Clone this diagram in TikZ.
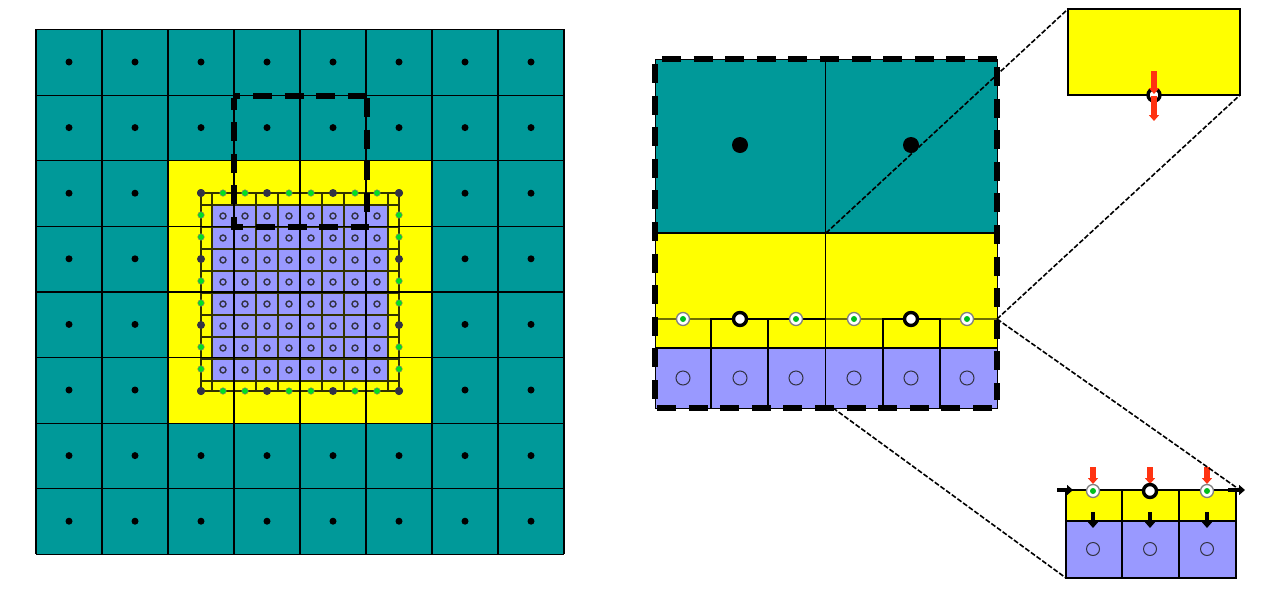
\documentclass[tikz,border=0pt]{standalone}
\usepackage{xcolor}
\usetikzlibrary{arrows.meta}
\definecolor{tealcell}{HTML}{009999}
\definecolor{yellowcell}{HTML}{FFFF00}
\definecolor{bluecell}{HTML}{9999FF}
\definecolor{gridline}{HTML}{333300}
\definecolor{greendot}{HTML}{00E020}
\definecolor{redarrow}{HTML}{FF3311}
\definecolor{darkdot}{HTML}{333344}

\begin{document}
\begin{tikzpicture}[
  x=1pt, y=-1pt,
  region/.style={fill=#1, draw=none},
  cellline/.style={black, line width=1.2pt},
  fineline/.style={gridline, line width=1.2pt},
  zoombox/.style={black, line width=5.5pt, dash pattern=on 19pt off 12.6pt},
  zoomline/.style={black, line width=1.6pt, dash pattern=on 5pt off 2pt},
  bigdot/.style={circle, fill=black, inner sep=0pt, minimum size=#1},
  ringdot/.style={circle, draw=darkdot, line width=#1, fill=none, inner sep=0pt},
  gdot/.style={circle, fill=greendot, draw=gridline!60, line width=0.5pt, inner sep=0pt, minimum size=6.5pt},
  ddot/.style={circle, fill=darkdot, inner sep=0pt, minimum size=8pt},
  gring/.style={circle, draw=gray, line width=1.3pt, fill=white, inner sep=0pt, minimum size=13pt},
  gcore/.style={circle, fill=greendot!85!black, inner sep=0pt, minimum size=6pt},
  wring/.style={circle, draw=black, line width=#1, fill=white, inner sep=0pt, minimum size=13pt},
  redarr/.style={-{Triangle[length=6pt,width=10pt]}, redarrow, line width=5.5pt},
  blkarr/.style={-{Triangle[length=6pt,width=10pt]}, black, line width=4pt}
]
  \useasboundingbox (0,0) rectangle (1262,590);

  % left mesh
  \fill[region=tealcell] (36,29) rectangle (564,554);
  \fill[region=yellowcell] (168,161) rectangle (431,423);
  \fill[region=bluecell] (212,205) rectangle (389,380);
  \foreach \i in {223,245,...,399}{
    \pgfmathtruncatemacro{\xa}{\i-11}
    \draw[fineline] (\xa,193) -- (\xa,391);
    \pgfmathtruncatemacro{\ya}{\i-18}
    \draw[fineline] (201,\ya) -- (399,\ya);
  }
  \draw[fineline] (201,193) rectangle (399,391);
  \foreach \i in {0,...,8}{
    \draw[cellline] (36+66*\i,29) -- (36+66*\i,554);
    \draw[cellline] (36,29.5+65.6*\i) -- (564,29.5+65.6*\i);
  }
  \foreach \i in {0,...,7}{
    \foreach \j in {0,...,7}{
      \pgfmathtruncatemacro{\inner}{(\i>1)&&(\i<6)&&(\j>1)&&(\j<6)?1:0}
      \ifnum\inner=0
        \node[bigdot=7pt] (c\i\j) at (69+66*\i,62+65.6*\j) {};
      \fi
      \node[ringdot=1.4pt, minimum size=6pt] (p\i\j) at (223+22*\i,216+22*\j) {};
    }
  }
  \foreach \i in {0,...,9}{
    \pgfmathtruncatemacro{\dk}{mod(\i,3)==0?1:0}
    \ifnum\dk=1
      \node[ddot] (t\i) at (201+22*\i,193) {};
      \node[ddot] (b\i) at (201+22*\i,391) {};
      \node[ddot] (l\i) at (201,193+22*\i) {};
      \node[ddot] (r\i) at (399,193+22*\i) {};
    \else
      \node[gdot] (t\i) at (201+22*\i,193) {};
      \node[gdot] (b\i) at (201+22*\i,391) {};
      \node[gdot] (l\i) at (201,193+22*\i) {};
      \node[gdot] (r\i) at (399,193+22*\i) {};
    \fi
  }
  \draw[zoombox, dash phase=12.6pt] (234,96) -- (367,96);
  \draw[zoombox, dash phase=7.4pt] (234,98) -- (234,230);
  \draw[zoombox] (367,98) -- (367,212);
  \draw[zoombox, dash phase=8.6pt] (233,227) -- (369,227);

  % zoomed region
  \fill[region=tealcell] (655,59) rectangle (997,233);
  \fill[region=yellowcell] (655,233) rectangle (997,348);
  \fill[region=bluecell] (655,348) rectangle (997,408);
  \draw[fineline, gridline!70!yellowcell] (655,319) -- (997,319);
  \draw[cellline] (825.5,59) -- (825.5,408);
  \draw[cellline] (655,233) -- (997,233);
  \draw[cellline] (655,348) -- (997,348);
  \draw[cellline] (711,408) -- (711,319) -- (825.5,319);
  \draw[cellline] (768,319) -- (768,408);
  \draw[cellline] (883,408) -- (883,319) -- (940,319) -- (940,408);
  \node[bigdot=16pt] (big1) at (740,145) {};
  \node[bigdot=16pt] (big2) at (911,145) {};
  \foreach \x/\n in {683/1,740/2,796/3,854/4,911/5,967/6}{
    \node[ringdot=1pt, minimum size=14pt] (pz\n) at (\x,378) {};
  }
  \foreach \x/\n in {683/1,796/3,854/4,967/6}{
    \node[gring] (gz\n) at (\x,319) {};
    \node[gcore] at (gz\n) {};
  }
  \foreach \x/\n in {740/2,911/5}{
    \node[wring=3.4pt] (wz\n) at (\x,319) {};
  }
  \draw[black, line width=0.8pt] (655,59) rectangle (997,408);
  \draw[zoombox] (662,59) -- (997,59);
  \draw[zoombox] (655,64) -- (655,400);
  \draw[zoombox] (997,67) -- (997,400);
  \draw[zoombox] (657,408) -- (994,408);

  % upper inset
  \fill[region=yellowcell] (1068,9) rectangle (1240,95);
  \draw[cellline] (1068,9) rectangle (1240,95);
  \node[wring=3.4pt, minimum size=12pt] (wtop) at (1154,95) {};
  \coordinate (rt1) at (1154,71);
  \coordinate (rt2) at (1154,94);
  \coordinate (rt3) at (1154,96);
  \coordinate (rt4) at (1154,121);
  \draw[redarr] (rt1) -- (rt2);
  \draw[redarr] (rt3) -- (rt4);

  % lower inset
  \fill[region=yellowcell] (1066,490) rectangle (1236,521);
  \fill[region=bluecell] (1066,521) rectangle (1236,578);
  \draw[cellline] (1066,490) rectangle (1236,578);
  \draw[cellline] (1066,521) -- (1236,521);
  \draw[cellline] (1122,490) -- (1122,578);
  \draw[cellline] (1179,490) -- (1179,578);
  \foreach \x/\n in {1093/1,1150/2,1207/3}{
    \node[ringdot=1pt, minimum size=13pt] (pb\n) at (\x,549) {};
    \coordinate (ra\n) at (\x,467);
    \coordinate (rb\n) at (\x,484);
    \coordinate (da\n) at (\x,512);
    \coordinate (db\n) at (\x,528);
    \draw[redarr] (ra\n) -- (rb\n);
    \draw[blkarr] (da\n) -- (db\n);
  }
  \foreach \x/\n in {1093/1,1207/3}{
    \node[gring] (gb\n) at (\x,491) {};
    \node[gcore] at (gb\n) {};
  }
  \node[wring=3.4pt] (wb2) at (1150,491) {};
  \coordinate (ha) at (1057,490);
  \coordinate (hb) at (1073,490);
  \coordinate (hc) at (1228,490);
  \coordinate (hd) at (1245,490);
  \draw[blkarr] (ha) -- (hb);
  \draw[blkarr] (hc) -- (hd);

  % connecting lines
  \coordinate (zb) at (1068,9);
  \coordinate (zc) at (826,233);
  \coordinate (zd) at (997,319);
  \coordinate (ze) at (1240,95);
  \coordinate (zf) at (1240,490);
  \coordinate (zg) at (833,408);
  \coordinate (zh) at (1066,578);
  \draw[zoomline] (zc) -- (zb);
  \draw[zoomline] (zd) -- (ze);
  \draw[zoomline] (zd) -- (zf);
  \draw[zoomline] (zg) -- (zh);
\end{tikzpicture}
\end{document}
